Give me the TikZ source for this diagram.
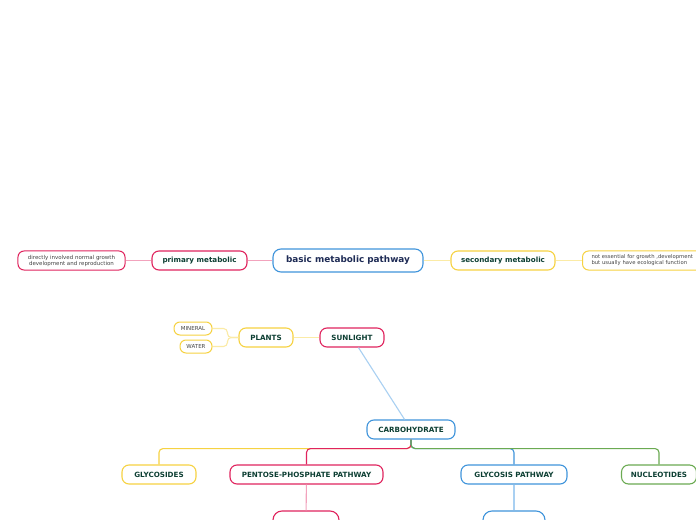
\documentclass[tikz,border=0pt]{standalone}
\usepackage{fontspec}
\setmainfont{DejaVu Sans}
\definecolor{crim}{HTML}{E0245E}
\definecolor{pinkln}{HTML}{F2A3BD}
\definecolor{bluebd}{HTML}{3F94DB}
\definecolor{blueln}{HTML}{A9D0F2}
\definecolor{yelbd}{HTML}{F6D242}
\definecolor{yelln}{HTML}{FBEBA6}
\definecolor{grn}{HTML}{6BAA52}
\definecolor{txtgrn}{HTML}{0D3F33}
\definecolor{txtnavy}{HTML}{1E2B55}
\definecolor{txtgray}{HTML}{444444}
\tikzset{
  topic/.style={draw, rounded corners=7bp, line width=1.1bp, fill=white,
    minimum height=19bp, inner sep=0pt, text=txtgrn,
    font=\fontsize{7.2}{8}\selectfont\bfseries},
  note/.style={draw, rounded corners=6bp, line width=1bp, fill=white,
    inner sep=0pt, text=txtgray, align=center,
    font=\fontsize{5.5}{6}\selectfont},
  link/.style={line width=1.1bp},
}
\begin{document}
\begin{tikzpicture}[x=1bp,y=-1bp]
\clip (0,0) rectangle (696,520);
\fill[white] (0,0) rectangle (696,520);
% central topic
\node[topic, draw=bluebd, text=txtnavy, minimum width=150bp, minimum height=23bp,
  rounded corners=8bp, font=\fontsize{8.9}{10}\selectfont\bfseries] (basic) at (348,260.5) {basic metabolic pathway};
\node[topic, draw=crim, minimum width=95bp] (prim) at (199.5,260.5) {primary metabolic};
\node[note, draw=crim, minimum width=107bp, minimum height=19bp] (primnote) at (71.5,260.5)
  {directly involved normal growth\\development and reproduction};
\node[topic, draw=yelbd, minimum width=104bp] (sec) at (503,260.5) {secondary metabolic};
\node[note, draw=yelbd, minimum height=19bp, minimum width=125bp, align=left, anchor=west,
  text width=125bp, font=\fontsize{5.3}{6}\selectfont] (secnote) at (582,260.5)
  {\hspace*{9bp}not essential for growth ,development\\\hspace*{9bp}but usually have ecological function};
\draw[link, pinkln] (basic) -- (prim);
\draw[link, pinkln] (prim) -- (primnote);
\draw[link, yelln] (basic) -- (sec);
\draw[link, yelln] (sec) -- (secnote);
% sunlight branch
\node[topic, draw=crim, minimum width=64bp] (sun) at (352,337.5) {SUNLIGHT};
\node[topic, draw=yelbd, minimum width=54bp] (plants) at (266,337.5) {PLANTS};
\node[note, draw=yelbd, minimum width=38bp, minimum height=13bp] (mineral) at (193,328.5) {MINERAL};
\node[note, draw=yelbd, minimum width=32bp, minimum height=13bp] (water) at (196,346.5) {WATER};
\draw[link, yelln] (sun) -- (plants);
\draw[link, yelln, rounded corners=4bp] (plants.west) -- ++(-11,0) |- (mineral.east);
\draw[link, yelln, rounded corners=4bp] (plants.west) -- ++(-11,0) |- (water.east);
% carbohydrate
\node[topic, draw=bluebd, minimum width=88bp] (carb) at (411,429.5) {CARBOHYDRATE};
\draw[link, blueln] (sun) -- (carb);
\node[topic, draw=yelbd, minimum width=74bp] (glyco) at (159,474.5) {GLYCOSIDES};
\node[topic, draw=crim, minimum width=153bp] (pentose) at (306.5,474.5) {PENTOSE-PHOSPHATE PATHWAY};
\node[topic, draw=bluebd, minimum width=106bp] (glycosis) at (514,474.5) {GLYCOSIS PATHWAY};
\node[topic, draw=grn, minimum width=75bp] (nucleo) at (659,474.5) {NUCLEOTIDES};
\draw[link, yelbd, rounded corners=4bp] (carb.south) -- ++(0,9) -| (glyco.north);
\draw[link, crim, rounded corners=4bp] (carb.south) -- ++(0,9) -| (pentose.north);
\draw[link, bluebd, rounded corners=4bp] (carb.south) -- ++(0,9) -| (glycosis.north);
\draw[link, grn, rounded corners=4bp] (carb.south) -- ++(0,9) -| (nucleo.north);
% cut off at the bottom
\node[topic, draw=crim, minimum width=66bp, minimum height=20bp, rounded corners=9bp] (pentsub) at (306,521) {};
\node[topic, draw=bluebd, minimum width=62bp, minimum height=20bp, rounded corners=9bp] (glysub) at (514,521) {};
\draw[link, pinkln] (pentose) -- (pentsub);
\draw[link, blueln] (glycosis) -- (glysub);
\end{tikzpicture}
\end{document}
